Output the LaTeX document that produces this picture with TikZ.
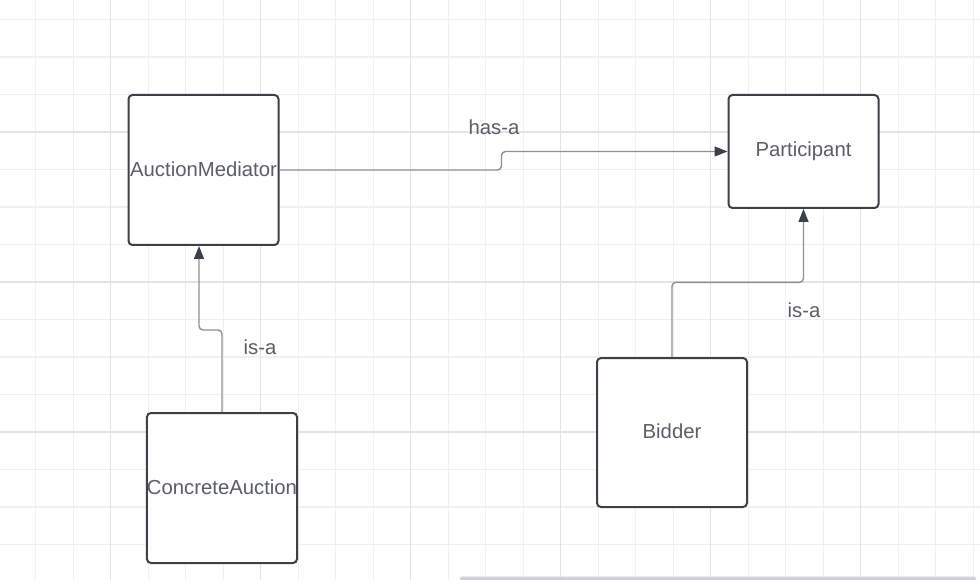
\documentclass[tikz,border=0pt]{standalone}
\usepackage{fontspec}
\setmainfont{Liberation Sans}
\usetikzlibrary{arrows.meta}
\definecolor{gridminor}{HTML}{F0F0F0}
\definecolor{gridmajor}{HTML}{E3E3E3}
\definecolor{boxline}{HTML}{3D4047}
\definecolor{connline}{HTML}{8C9096}
\definecolor{tipcol}{HTML}{3A414A}
\definecolor{txtcol}{HTML}{5A5E66}
\definecolor{barcol}{HTML}{CFD1D6}
\tikzset{
  classbox/.style={draw=boxline, line width=2pt, rounded corners=4pt, fill=white,
    minimum width=150pt, inner sep=0pt, text=txtcol,
    font=\fontsize{20.3}{24}\selectfont},
  conn/.style={draw=connline, line width=1.4pt, rounded corners=4pt,
    -{Triangle[length=13pt,width=10pt,color=tipcol]}},
  lbl/.style={text=txtcol, font=\fontsize{20.3}{24}\selectfont, inner sep=0pt}
}
\begin{document}
\begin{tikzpicture}[x=1pt,y=-1pt]
\useasboundingbox (0,0) rectangle (980,580);
\fill[white] (0,0) rectangle (980,580);
% grid
\foreach \k in {0,...,25} {
  \draw[gridminor, line width=1.2pt] ({35.7+37.5*\k},0) -- ({35.7+37.5*\k},580);
}
\foreach \k in {0,...,14} {
  \draw[gridminor, line width=1.2pt] (0,{19.5+37.5*\k}) -- (980,{19.5+37.5*\k});
}
\foreach \k in {0,...,5} {
  \draw[gridmajor, line width=1.2pt] ({110.7+150*\k},0) -- ({110.7+150*\k},580);
}
\foreach \k in {0,...,2} {
  \draw[gridmajor, line width=1.2pt] (0,{132+150*\k}) -- (980,{132+150*\k});
}
% bottom bar
\fill[barcol, rounded corners=1.5pt] (460,576.5) rectangle (976,583);
% nodes
\node[classbox, minimum height=150pt] (am) at (203.5,170) {\raisebox{1.5pt}{AuctionMediator}};
\node[classbox, minimum height=113pt] (pa) at (803.5,151.5) {Participant};
\node[classbox, minimum height=150pt] (ca) at (222,488) {\raisebox{1.5pt}{ConcreteAuction}};
\node[classbox, minimum height=149pt] (bi) at (672,432.5) {\raisebox{3pt}{Bidder}};
% connectors
\coordinate (h1) at (501.5,170);
\coordinate (h2) at (501.5,151.5);
\draw[conn] (am.east) -- (h1) -- (h2) -- (pa.west);
\coordinate (l1) at (199,330);
\draw[conn] (ca.north) |- (l1) -- (l1 |- am.south);
\coordinate (r1) at (803.5,282.3);
\draw[conn] (bi.north) |- (r1) -- (pa.south);
% labels
\node[lbl] (hasa) at (494,127) {has-a};
\node[lbl] (isa1) at (260,347.5) {is-a};
\node[lbl] (isa2) at (804,310) {is-a};
\end{tikzpicture}
\end{document}
